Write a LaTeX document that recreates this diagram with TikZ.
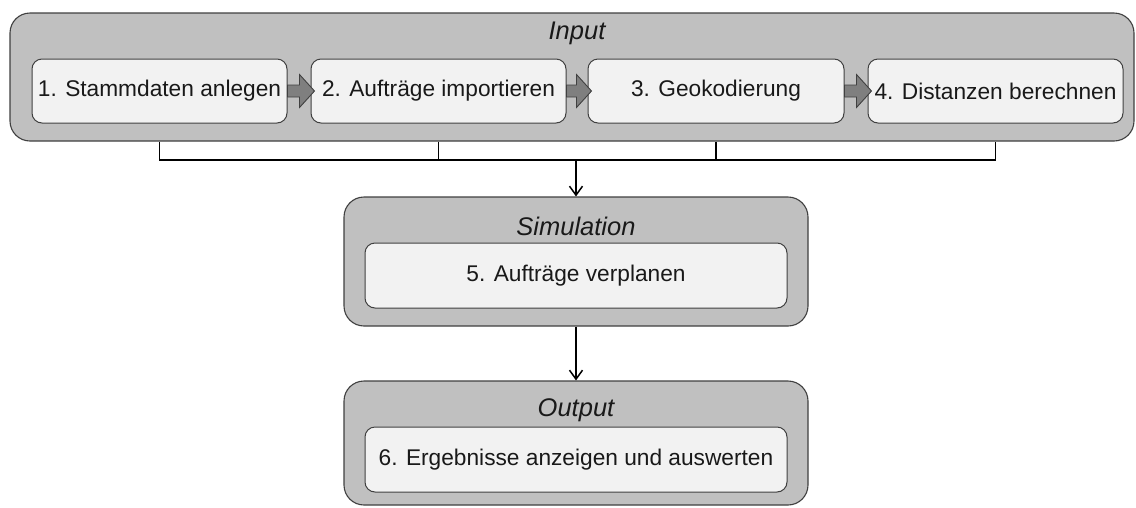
\documentclass[tikz,border=0pt]{standalone}
\usepackage{fontspec}
\setmainfont{Liberation Sans}
\usetikzlibrary{arrows.meta,calc}
\definecolor{outerfill}{HTML}{C0C0C0}
\definecolor{innerfill}{HTML}{F2F2F2}
\definecolor{boxline}{HTML}{404040}
\definecolor{arrfill}{HTML}{7F7F7F}
\begin{document}
\begin{tikzpicture}[x=1pt,y=-1pt,
  outerbox/.style={draw=boxline, line width=1.1pt, fill=outerfill, rounded corners=20pt, inner sep=0pt},
  innerbox/.style={draw=boxline, line width=1pt, fill=innerfill, rounded corners=10pt, inner sep=0pt,
    font=\fontsize{22.7}{27}\selectfont, text=black!90},
  grouplabel/.style={font=\fontsize{25.5}{30}\selectfont\itshape, text=black!90, inner sep=0pt},
  blockarr/.style={draw=boxline, line width=0.9pt, fill=arrfill},
  conn/.style={draw=black, line width=1.5pt},
  connarr/.style={conn, -{Straight Barb[length=9pt,width=13pt,line width=1.5pt]}}
]
\useasboundingbox (0,0) rectangle (1136,507);

% group boxes
\node[outerbox, minimum width=1124pt, minimum height=128pt] (in) at (572,77) {};
\node[outerbox, minimum width=464pt, minimum height=129pt] (sim) at (576,261.5) {};
\node[outerbox, minimum width=464pt, minimum height=124pt] (out) at (576,443) {};

% group labels
\node[grouplabel] (inlab) at (577,33) {Input};
\node[grouplabel] (simlab) at (576,226) {Simulation};
\node[grouplabel] (outlab) at (576,410) {Output};

% step boxes
\node[innerbox, minimum width=255pt, minimum height=64pt] (b1) at (159.5,91) {1. Stammdaten anlegen};
\node[innerbox, minimum width=255pt, minimum height=64pt] (b2) at (438.5,91) {2. Aufträge importieren};
\node[innerbox, minimum width=256pt, minimum height=64pt] (b3) at (716,91) {3. Geokodierung};
\node[innerbox, minimum width=255pt, minimum height=64pt] (b4) at (995.5,91) {4. Distanzen berechnen};
\node[innerbox, minimum width=422pt, minimum height=65pt] (b5) at (576,275.5) {5. Aufträge verplanen};
\node[innerbox, minimum width=422pt, minimum height=65pt] (b6) at (576,459.5) {6. Ergebnisse anzeigen und auswerten};

% block arrows between steps
\foreach \a/\b in {b1/b2, b2/b3, b3/b4}{
  \draw[blockarr] let \p1=(\a.east), \p2=(\b.west) in
    (\x1,\y1+6pt) -- (\x2-11pt,\y1+6pt) -- (\x2-11pt,\y1+16.5pt) -- (\x2+4pt,\y1)
    -- (\x2-11pt,\y1-16.5pt) -- (\x2-11pt,\y1-6pt) -- (\x1,\y1-6pt) -- cycle;
}

% bracket connector
\coordinate (j) at (576,160);
\draw[conn] (b1 |- in.south) -- (b1 |- j) -- (b4 |- j) -- (b4 |- in.south);
\draw[conn] (b2 |- in.south) -- (b2 |- j);
\draw[conn] (b3 |- in.south) -- (b3 |- j);
\draw[connarr] (j) -- (sim.north);
\draw[connarr] (sim.south) -- (out.north);
\end{tikzpicture}
\end{document}
